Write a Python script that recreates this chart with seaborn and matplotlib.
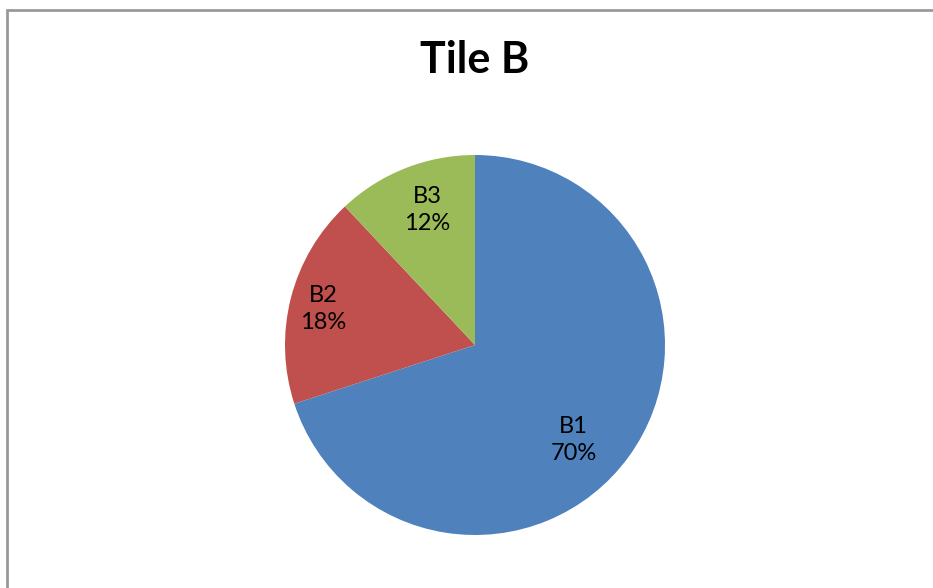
import matplotlib
matplotlib.use("Agg")
import matplotlib.pyplot as plt
import seaborn as sns
from matplotlib.patches import Rectangle

sns.set_theme(style="white")
plt.rcParams['font.family'] = ['Lato', 'DejaVu Sans']

categories = ["B1", "B2", "B3"]
values = [70, 18, 12]
colors = ["#4F81BD", "#C0504D", "#9BBB59"]
title = "Tile B"

W, H = 933, 588
fig = plt.figure(figsize=(W / 100, H / 100), dpi=100)
fig.patch.set_facecolor("white")

# frame border
fig.patches.append(Rectangle((7 / W, -0.05), 1.1, 1 - 10 / H + 0.05,
                             transform=fig.transFigure, fill=False,
                             edgecolor="#999999", linewidth=2.0))

cx, cy, r = 475, 345, 190
ax = fig.add_axes([(cx - r) / W, 1 - (cy + r) / H, 2 * r / W, 2 * r / H])
labels = [f"{c}\n{v}%" for c, v in zip(categories, values)]
wedges, texts = ax.pie(values, labels=labels, colors=colors, startangle=90,
                       counterclock=False, labeldistance=0.77,
                       textprops=dict(fontsize=17, color="black", ha="center",
                                      va="center", linespacing=1.4),
                       wedgeprops=dict(linewidth=0))
# Excel-like label placement (layout offsets, in pie radius units)
label_pos = [(0.52, -0.50), (-0.80, 0.19), (-0.25, 0.71)]
for t, p in zip(texts, label_pos):
    t.set_horizontalalignment("center")
    t.set_position(p)
ax.set_xlim(-1, 1)
ax.set_ylim(-1, 1)
ax.set_aspect("equal")
ax.axis("off")

fig.text(cx / W, 1 - 60 / H, title, ha="center", va="center",
         fontsize=31, fontweight="bold", color="black")

fig.savefig("out.png", dpi=100)
